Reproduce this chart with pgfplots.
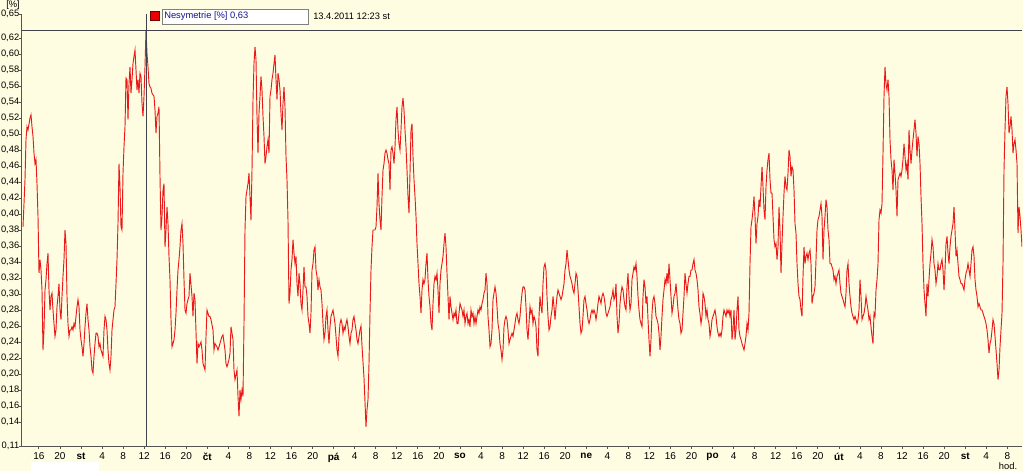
\documentclass[border=0pt]{standalone}
\usepackage{fontspec}
\setmainfont{Liberation Sans}
\usepackage{pgfplots}
\pgfplotsset{compat=1.18}
\definecolor{bgy}{RGB}{255,253,225}
\definecolor{axg}{RGB}{85,85,85}
\definecolor{curs}{RGB}{66,66,74}
\definecolor{navy}{RGB}{20,20,140}
\definecolor{linered}{RGB}{235,25,25}
\begin{document}
\begin{tikzpicture}
\fill[bgy] (-16.5pt,-18.75pt) rectangle (750.75pt,334.5pt);
\begin{axis}[
  at={(0,0)}, anchor=south west,
  scale only axis, width=750pt, height=324pt,
  xmin=-11.21, xmax=178.79, ymin=0.11, ymax=0.65,
  axis x line*=bottom, axis y line*=left,
  axis line style={-, draw=axg, line width=0.75pt},
  tick style={draw=axg, line width=0.6pt},
  tick align=outside, major tick length=2.2pt,
  xtick={-8,-4,...,176},
  xticklabels={16,20,\textbf{st},4,8,12,16,20,\textbf{čt},4,8,12,16,20,\textbf{pá},4,8,12,16,20,\textbf{so},4,8,12,16,20,\textbf{ne},4,8,12,16,20,\textbf{po},4,8,12,16,20,\textbf{út},4,8,12,16,20,\textbf{st},4,8},
  ytick={0.11,0.14,0.16,0.18,0.20,0.22,0.24,0.26,0.28,0.30,0.32,0.34,0.36,0.38,0.40,0.42,0.44,0.46,0.48,0.50,0.52,0.54,0.56,0.58,0.60,0.62,0.65},
  /pgf/number format/assume math mode=true,
  /pgf/number format/fixed,
  /pgf/number format/fixed zerofill,
  /pgf/number format/precision=2,
  /pgf/number format/use comma,
  xticklabel style={font=\fontsize{7.5}{9}\selectfont, yshift=0.5pt},
  yticklabel style={font=\fontsize{7}{9}\selectfont, inner xsep=0pt, xshift=0.3pt},
]
\addplot[linered, line width=0.7pt] coordinates {
(-11.02,0.384) (-10.83,0.413) (-10.64,0.443) (-10.45,0.493) (-10.26,0.509) (-10.07,0.505) (-9.69,0.520) (-9.50,0.524)
(-9.31,0.509) (-9.12,0.497) (-8.93,0.476) (-8.74,0.463) (-8.55,0.468) (-8.36,0.438) (-8.17,0.397) (-7.98,0.326)
(-7.79,0.343) (-7.60,0.330) (-7.41,0.305) (-7.22,0.230) (-7.03,0.255) (-6.84,0.305) (-6.65,0.318) (-6.46,0.338)
(-6.27,0.351) (-6.08,0.305) (-5.89,0.280) (-5.70,0.297) (-5.51,0.301) (-5.32,0.280) (-5.13,0.263) (-4.94,0.247)
(-4.75,0.255) (-4.56,0.284) (-4.37,0.297) (-4.18,0.313) (-3.99,0.280) (-3.80,0.268) (-3.61,0.297) (-3.42,0.322)
(-3.23,0.343) (-3.04,0.380) (-2.85,0.363) (-2.66,0.297) (-2.47,0.263) (-2.28,0.247) (-2.09,0.255) (-1.90,0.255)
(-1.71,0.259) (-1.52,0.255) (-1.33,0.263) (-1.14,0.259) (-0.95,0.272) (-0.76,0.284) (-0.57,0.293) (-0.38,0.284)
(-0.19,0.255) (0,0.243) (0.19,0.234) (0.38,0.222) (0.57,0.238) (0.76,0.259) (0.95,0.276) (1.14,0.288)
(1.33,0.268) (1.52,0.255) (1.71,0.234) (1.90,0.222) (2.09,0.205) (2.28,0.201) (2.47,0.222) (2.66,0.238)
(2.85,0.251) (3.04,0.251) (3.23,0.247) (3.42,0.234) (3.61,0.238) (3.80,0.230) (3.99,0.226) (4.18,0.222)
(4.37,0.255) (4.56,0.272) (4.75,0.268) (4.94,0.255) (5.13,0.230) (5.32,0.213) (5.51,0.205) (5.70,0.222)
(5.89,0.255) (6.08,0.268) (6.27,0.280) (6.46,0.284) (6.65,0.313) (6.84,0.343) (7.03,0.388) (7.22,0.463)
(7.41,0.434) (7.60,0.384) (7.79,0.380) (7.98,0.451) (8.17,0.484) (8.36,0.509) (8.55,0.570) (8.74,0.568)
(8.93,0.518) (9.12,0.563) (9.31,0.584) (9.50,0.551) (9.69,0.568) (9.88,0.588) (10.07,0.597) (10.26,0.605)
(10.45,0.580) (10.64,0.555) (10.83,0.568) (11.02,0.551) (11.21,0.576) (11.40,0.572) (11.59,0.538) (11.78,0.522)
(11.97,0.547) (12.16,0.584) (12.35,0.630) (12.54,0.601) (12.73,0.584) (12.92,0.563) (13.11,0.559) (13.30,0.557)
(13.49,0.551) (13.68,0.549) (13.87,0.547) (14.06,0.530) (14.25,0.501) (14.44,0.522) (14.63,0.526) (14.82,0.534)
(15.01,0.447) (15.20,0.380) (15.39,0.397) (15.58,0.430) (15.77,0.438) (15.96,0.359) (16.15,0.380) (16.34,0.409)
(16.53,0.388) (16.72,0.347) (16.91,0.318) (17.10,0.268) (17.29,0.234) (17.48,0.238) (17.67,0.243) (17.86,0.255)
(18.05,0.276) (18.24,0.305) (18.43,0.330) (18.62,0.343) (18.81,0.359) (19.00,0.380) (19.19,0.388) (19.38,0.363)
(19.57,0.318) (19.76,0.280) (19.95,0.276) (20.14,0.288) (20.33,0.293) (20.52,0.297) (20.71,0.326) (21.09,0.297)
(21.28,0.272) (21.47,0.301) (21.66,0.293) (22.04,0.213) (22.23,0.238) (22.42,0.234) (22.80,0.240) (22.99,0.230)
(23.18,0.213) (23.56,0.205) (23.75,0.247) (23.94,0.280) (24.32,0.272) (24.51,0.272) (24.70,0.268) (25.08,0.255)
(25.27,0.230) (25.46,0.238) (25.84,0.234) (26.03,0.230) (26.22,0.234) (26.60,0.243) (26.79,0.247) (26.98,0.249)
(27.36,0.230) (27.55,0.213) (27.74,0.209) (28.12,0.218) (28.31,0.226) (28.50,0.259) (28.88,0.243) (29.07,0.205)
(29.26,0.193) (29.64,0.205) (29.83,0.172) (30.02,0.147) (30.21,0.180) (30.40,0.168) (30.59,0.180) (30.78,0.172)
(30.97,0.263) (31.16,0.380) (31.35,0.422) (31.54,0.430) (31.73,0.438) (31.92,0.451) (32.11,0.422) (32.30,0.392)
(32.49,0.455) (32.68,0.543) (32.87,0.588) (33.06,0.609) (33.25,0.593) (33.44,0.522) (33.63,0.476) (33.82,0.526)
(34.01,0.547) (34.20,0.572) (34.39,0.555) (34.58,0.522) (34.77,0.497) (34.96,0.463) (35.15,0.472) (35.34,0.484)
(35.53,0.493) (35.72,0.476) (35.91,0.547) (36.10,0.555) (36.29,0.568) (36.48,0.576) (36.67,0.588) (36.86,0.599)
(37.05,0.568) (37.24,0.543) (37.43,0.576) (37.62,0.568) (37.81,0.555) (38.00,0.526) (38.19,0.505) (38.38,0.538)
(38.57,0.559) (38.76,0.534) (38.95,0.472) (39.14,0.443) (39.33,0.392) (39.52,0.288) (39.71,0.301) (39.90,0.330)
(40.09,0.343) (40.28,0.368) (40.47,0.351) (40.66,0.338) (40.85,0.347) (41.04,0.313) (41.23,0.297) (41.42,0.326)
(41.61,0.313) (41.80,0.288) (41.99,0.280) (42.18,0.305) (42.37,0.334) (42.56,0.309) (42.75,0.309) (42.94,0.297)
(43.13,0.272) (43.32,0.263) (43.51,0.251) (43.70,0.276) (43.89,0.330) (44.08,0.338) (44.27,0.355) (44.46,0.359)
(44.65,0.330) (44.84,0.322) (45.03,0.305) (45.22,0.318) (45.41,0.309) (45.60,0.305) (45.79,0.288) (45.98,0.263)
(46.17,0.243) (46.36,0.251) (46.55,0.272) (46.74,0.280) (46.93,0.255) (47.12,0.238) (47.31,0.259) (47.50,0.272)
(47.69,0.276) (47.88,0.280) (48.07,0.272) (48.26,0.263) (48.45,0.247) (48.64,0.230) (48.83,0.222) (49.02,0.247)
(49.21,0.263) (49.40,0.268) (49.59,0.263) (49.78,0.251) (49.97,0.259) (50.16,0.255) (50.35,0.263) (50.54,0.268)
(50.73,0.259) (50.92,0.247) (51.11,0.238) (51.30,0.251) (51.49,0.255) (51.68,0.268) (51.87,0.272) (52.06,0.263)
(52.25,0.255) (52.44,0.243) (52.63,0.238) (52.82,0.247) (53.01,0.255) (53.20,0.260) (53.39,0.235) (53.58,0.215)
(53.77,0.195) (53.96,0.165) (54.15,0.134) (54.34,0.155) (54.53,0.168) (54.72,0.213) (54.91,0.276) (55.10,0.330)
(55.29,0.359) (55.48,0.380) (55.67,0.380) (55.86,0.380) (56.05,0.384) (56.24,0.409) (56.43,0.451) (56.62,0.413)
(56.81,0.393) (57.00,0.380) (57.19,0.422) (57.38,0.455) (57.57,0.463) (57.76,0.476) (57.95,0.480) (58.14,0.476)
(58.33,0.468) (58.52,0.463) (58.71,0.430) (58.90,0.480) (59.09,0.484) (59.28,0.476) (59.47,0.463) (59.66,0.484)
(59.85,0.518) (60.04,0.534) (60.23,0.505) (60.42,0.488) (60.61,0.480) (60.80,0.505) (60.99,0.534) (61.18,0.545)
(61.37,0.530) (61.56,0.505) (61.75,0.484) (61.94,0.455) (62.13,0.422) (62.32,0.401) (62.51,0.451) (62.70,0.505)
(62.89,0.513) (63.08,0.472) (63.27,0.443) (63.46,0.422) (63.65,0.397) (63.84,0.363) (64.03,0.338) (64.22,0.313)
(64.41,0.297) (64.60,0.276) (64.79,0.305) (64.98,0.318) (65.17,0.313) (65.36,0.318) (65.55,0.338) (65.74,0.351)
(65.93,0.318) (66.12,0.297) (66.31,0.284) (66.50,0.263) (66.69,0.255) (66.88,0.288) (67.07,0.313) (67.26,0.322)
(67.45,0.318) (67.64,0.326) (67.83,0.305) (68.02,0.276) (68.21,0.313) (68.40,0.330) (68.59,0.338) (68.78,0.347)
(68.97,0.363) (69.16,0.376) (69.35,0.359) (69.54,0.326) (69.73,0.297) (69.92,0.268) (70.11,0.297) (70.30,0.284)
(70.49,0.276) (70.68,0.268) (70.87,0.276) (71.06,0.272) (71.25,0.280) (71.44,0.263) (71.63,0.263) (71.82,0.276)
(72.01,0.288) (72.20,0.284) (72.39,0.280) (72.58,0.272) (72.77,0.280) (72.96,0.263) (73.15,0.272) (73.34,0.276)
(73.53,0.263) (73.72,0.268) (73.91,0.259) (74.10,0.280) (74.29,0.272) (74.48,0.276) (74.67,0.263) (74.86,0.272)
(75.05,0.263) (75.24,0.272) (75.43,0.280) (75.62,0.276) (75.81,0.284) (76.00,0.280) (76.19,0.288) (76.38,0.293)
(76.57,0.301) (76.76,0.305) (76.95,0.326) (77.14,0.313) (77.33,0.272) (77.52,0.255) (77.71,0.234) (77.90,0.238)
(78.09,0.255) (78.28,0.293) (78.47,0.301) (78.66,0.309) (78.85,0.301) (79.04,0.284) (79.23,0.263) (79.42,0.255)
(79.61,0.238) (79.80,0.230) (79.99,0.218) (80.18,0.230) (80.37,0.259) (80.56,0.268) (80.75,0.272) (80.94,0.268)
(81.13,0.255) (81.32,0.238) (81.51,0.243) (81.70,0.247) (81.89,0.251) (82.08,0.247) (82.27,0.255) (82.46,0.263)
(82.65,0.272) (82.84,0.276) (83.03,0.268) (83.22,0.263) (83.41,0.272) (83.60,0.288) (83.79,0.301) (83.98,0.309)
(84.17,0.309) (84.36,0.305) (84.55,0.284) (84.74,0.255) (84.93,0.243) (85.12,0.263) (85.31,0.284) (85.50,0.276)
(85.69,0.280) (85.88,0.263) (86.07,0.272) (86.26,0.268) (86.45,0.259) (86.64,0.230) (86.83,0.222) (87.02,0.272)
(87.21,0.297) (87.40,0.284) (87.59,0.276) (87.78,0.313) (87.97,0.334) (88.16,0.338) (88.35,0.330) (88.54,0.297)
(88.73,0.272) (88.92,0.255) (89.11,0.259) (89.30,0.272) (89.49,0.280) (89.68,0.297) (89.87,0.284) (90.06,0.268)
(90.25,0.284) (90.44,0.297) (90.63,0.305) (90.82,0.301) (91.01,0.297) (91.20,0.293) (91.39,0.297) (91.58,0.305)
(91.77,0.313) (91.96,0.330) (92.15,0.338) (92.34,0.355) (92.53,0.343) (92.72,0.330) (92.91,0.322) (93.10,0.318)
(93.29,0.313) (93.48,0.305) (93.67,0.301) (93.86,0.313) (94.05,0.326) (94.24,0.322) (94.43,0.305) (94.62,0.284)
(94.81,0.263) (95.00,0.251) (95.19,0.255) (95.38,0.272) (95.57,0.293) (95.76,0.297) (95.95,0.288) (96.14,0.280)
(96.33,0.268) (96.52,0.263) (96.71,0.268) (96.90,0.276) (97.09,0.280) (97.28,0.276) (97.47,0.280) (97.66,0.276)
(97.85,0.268) (98.04,0.276) (98.23,0.288) (98.42,0.297) (98.61,0.293) (98.80,0.288) (98.99,0.297) (99.18,0.301)
(99.37,0.297) (99.56,0.288) (99.75,0.276) (99.94,0.272) (100.13,0.276) (100.32,0.280) (100.51,0.284) (100.70,0.293)
(100.89,0.297) (101.08,0.305) (101.27,0.293) (101.46,0.297) (101.65,0.313) (101.84,0.272) (102.03,0.251) (102.22,0.263)
(102.41,0.288) (102.60,0.301) (102.79,0.309) (102.98,0.305) (103.17,0.293) (103.36,0.284) (103.55,0.280) (103.74,0.309)
(103.93,0.326) (104.12,0.297) (104.31,0.280) (104.50,0.288) (104.69,0.318) (104.88,0.326) (105.07,0.334) (105.26,0.330)
(105.45,0.338) (105.64,0.322) (105.83,0.297) (106.02,0.280) (106.21,0.268) (106.40,0.263) (106.59,0.259) (106.78,0.297)
(106.97,0.318) (107.16,0.309) (107.35,0.288) (107.54,0.297) (107.73,0.268) (107.92,0.243) (108.11,0.222) (108.30,0.243)
(108.49,0.276) (108.68,0.293) (108.87,0.297) (109.06,0.288) (109.25,0.272) (109.44,0.268) (109.63,0.263) (109.82,0.251)
(110.01,0.230) (110.20,0.247) (110.39,0.272) (110.58,0.293) (110.77,0.305) (110.96,0.318) (111.15,0.313) (111.34,0.326)
(111.53,0.313) (111.72,0.338) (111.91,0.318) (112.10,0.297) (112.29,0.276) (112.48,0.284) (112.67,0.297) (112.86,0.301)
(113.05,0.313) (113.24,0.297) (113.43,0.280) (113.62,0.268) (113.81,0.263) (114.00,0.251) (114.19,0.255) (114.38,0.276)
(114.57,0.297) (114.76,0.326) (114.95,0.313) (115.14,0.301) (115.33,0.313) (115.52,0.322) (115.71,0.322) (115.90,0.330)
(116.09,0.330) (116.28,0.338) (116.47,0.343) (116.66,0.330) (116.85,0.326) (117.04,0.318) (117.23,0.305) (117.42,0.284)
(117.61,0.275) (117.80,0.263) (117.99,0.272) (118.18,0.301) (118.37,0.297) (118.56,0.288) (118.75,0.272) (118.94,0.280)
(119.13,0.268) (119.32,0.263) (119.51,0.247) (119.70,0.255) (119.89,0.268) (120.08,0.272) (120.27,0.276) (120.46,0.280)
(120.65,0.272) (120.84,0.259) (121.03,0.251) (121.22,0.247) (121.41,0.251) (121.60,0.247) (121.79,0.255) (121.98,0.272)
(122.17,0.280) (122.36,0.276) (122.55,0.272) (122.74,0.280) (122.93,0.276) (123.12,0.280) (123.31,0.272) (123.50,0.280)
(123.69,0.243) (123.88,0.255) (124.07,0.280) (124.26,0.243) (124.45,0.255) (124.64,0.280) (124.83,0.297) (125.02,0.255)
(125.21,0.247) (125.40,0.243) (125.59,0.238) (125.78,0.234) (125.97,0.230) (126.16,0.238) (126.35,0.247) (126.54,0.263)
(126.73,0.255) (126.92,0.276) (127.11,0.338) (127.30,0.384) (127.49,0.393) (127.68,0.405) (127.87,0.422) (128.06,0.397)
(128.25,0.363) (128.44,0.388) (128.63,0.397) (128.82,0.418) (129.01,0.409) (129.20,0.434) (129.39,0.459) (129.58,0.434)
(129.77,0.405) (129.96,0.393) (130.15,0.434) (130.34,0.455) (130.53,0.468) (130.72,0.476) (130.91,0.443) (131.10,0.426)
(131.29,0.426) (131.48,0.397) (131.67,0.368) (131.86,0.359) (132.05,0.363) (132.24,0.343) (132.43,0.359) (132.62,0.409)
(132.81,0.380) (133.00,0.326) (133.19,0.363) (133.38,0.397) (133.57,0.426) (133.76,0.447) (133.95,0.434) (134.14,0.430)
(134.33,0.451) (134.52,0.480) (134.71,0.472) (134.90,0.447) (135.09,0.459) (135.28,0.455) (135.47,0.430) (135.66,0.388)
(135.85,0.376) (136.04,0.338) (136.23,0.313) (136.42,0.297) (136.61,0.293) (136.80,0.280) (136.99,0.272) (137.18,0.322)
(137.37,0.359) (137.56,0.338) (137.75,0.347) (137.94,0.351) (138.13,0.343) (138.32,0.351) (138.51,0.355) (138.70,0.338)
(138.89,0.288) (139.08,0.297) (139.27,0.301) (139.46,0.309) (139.65,0.343) (139.84,0.380) (140.03,0.393) (140.22,0.397)
(140.41,0.405) (140.60,0.413) (140.79,0.397) (140.98,0.343) (141.17,0.380) (141.36,0.397) (141.55,0.418) (141.74,0.409)
(141.93,0.380) (142.12,0.368) (142.31,0.338) (142.50,0.338) (142.69,0.334) (142.88,0.330) (143.07,0.318) (143.26,0.322)
(143.45,0.313) (143.64,0.322) (143.83,0.326) (144.02,0.330) (144.21,0.313) (144.40,0.301) (144.59,0.297) (144.78,0.293)
(144.97,0.288) (145.16,0.284) (145.35,0.301) (145.54,0.330) (145.73,0.338) (145.92,0.313) (146.11,0.297) (146.30,0.284)
(146.49,0.276) (146.68,0.272) (146.87,0.268) (147.06,0.272) (147.25,0.268) (147.44,0.263) (147.63,0.268) (147.82,0.280)
(148.01,0.318) (148.20,0.297) (148.39,0.268) (148.58,0.272) (148.77,0.276) (148.96,0.284) (149.15,0.297) (149.34,0.288)
(149.53,0.280) (149.72,0.268) (149.91,0.272) (150.10,0.259) (150.29,0.247) (150.48,0.238) (150.67,0.276) (150.86,0.272)
(151.05,0.305) (151.24,0.318) (151.43,0.338) (151.62,0.393) (151.81,0.405) (152.00,0.401) (152.19,0.413) (152.38,0.476)
(152.57,0.547) (152.76,0.584) (152.95,0.563) (153.14,0.555) (153.33,0.568) (153.52,0.547) (153.71,0.493) (153.90,0.468)
(154.09,0.455) (154.28,0.430) (154.47,0.468) (154.66,0.451) (154.85,0.430) (155.04,0.397) (155.23,0.443) (155.42,0.447)
(155.61,0.451) (155.80,0.447) (155.99,0.455) (156.18,0.468) (156.37,0.488) (156.56,0.472) (156.75,0.455) (156.94,0.463)
(157.13,0.443) (157.32,0.505) (157.51,0.480) (157.70,0.463) (157.89,0.480) (158.08,0.493) (158.27,0.505) (158.46,0.518)
(158.65,0.501) (158.84,0.472) (159.03,0.497) (159.22,0.488) (159.41,0.463) (159.60,0.422) (159.79,0.388) (159.98,0.338)
(160.17,0.305) (160.36,0.288) (160.55,0.272) (160.74,0.313) (160.93,0.297) (161.12,0.318) (161.31,0.338) (161.50,0.351)
(161.69,0.368) (161.88,0.359) (162.07,0.338) (162.26,0.330) (162.45,0.313) (162.64,0.322) (162.83,0.338) (163.02,0.330)
(163.21,0.330) (163.40,0.338) (163.59,0.343) (163.78,0.330) (163.97,0.305) (164.16,0.330) (164.35,0.363) (164.54,0.372)
(164.73,0.351) (164.92,0.338) (165.11,0.359) (165.30,0.372) (165.49,0.380) (165.68,0.388) (165.87,0.409) (166.06,0.380)
(166.25,0.347) (166.44,0.355) (166.63,0.338) (166.82,0.322) (167.01,0.318) (167.20,0.313) (167.39,0.313) (167.58,0.309)
(167.77,0.305) (167.96,0.318) (168.15,0.326) (168.34,0.330) (168.53,0.338) (168.72,0.330) (168.91,0.322) (169.10,0.338)
(169.29,0.355) (169.48,0.359) (169.67,0.347) (169.86,0.318) (170.05,0.305) (170.24,0.297) (170.43,0.284) (170.62,0.288)
(170.81,0.284) (171.00,0.280) (171.19,0.280) (171.38,0.276) (171.57,0.272) (171.76,0.268) (171.95,0.263) (172.14,0.255)
(172.33,0.243) (172.52,0.226) (172.71,0.238) (172.90,0.243) (173.09,0.255) (173.28,0.268) (173.47,0.263) (173.66,0.247)
(173.85,0.230) (174.04,0.213) (174.23,0.193) (174.42,0.205) (174.61,0.234) (174.80,0.255) (174.99,0.276) (175.18,0.338)
(175.37,0.455) (175.56,0.505) (175.75,0.547) (175.94,0.559) (176.13,0.538) (176.32,0.501) (176.51,0.509) (176.70,0.522)
(176.89,0.505) (177.08,0.476) (177.27,0.488) (177.46,0.493) (177.65,0.480) (177.84,0.463) (178.03,0.376) (178.22,0.409)
(178.41,0.397) (178.60,0.380) (178.79,0.359)
};
\draw[curs, line width=0.75pt] (axis cs:12.38,0.11) -- (axis cs:12.38,0.65);
\draw[curs, line width=0.75pt] (axis cs:-11.21,0.63) -- (axis cs:178.79,0.63);
\end{axis}
\begin{scope}[x=0.75pt, y=-0.75pt, shift={(-16.5pt,334.5pt)}]
\fill[white] (31,462) rectangle (99,471);
\filldraw[fill=red!92!black, draw=red!45!black, line width=0.5pt] (150.5,11.5) rectangle (159.5,20.5);
\filldraw[fill=white, draw=gray, line width=0.6pt] (162,9) rectangle (308,24);
\node[anchor=west, inner sep=0pt, text=navy, font=\fontsize{7}{8}\selectfont] at (164,16.5) {Nesymetrie [\%] 0,63};
\node[anchor=west, inner sep=0pt, font=\fontsize{7}{8}\selectfont] at (313,16.5) {13.4.2011 12:23 st};
\node[inner sep=0pt, font=\fontsize{7}{9}\selectfont] at (13,5.5) {[\%]};
\node[inner sep=0pt, font=\fontsize{7}{9}\selectfont] at (1008,466) {hod.};
\end{scope}
\pgfresetboundingbox
\useasboundingbox (-16.5pt,-18.75pt) rectangle (750.75pt,334.5pt);
\end{tikzpicture}
\end{document}
